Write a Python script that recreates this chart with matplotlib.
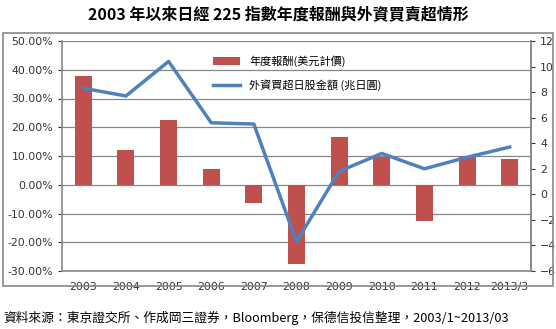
import matplotlib.pyplot as plt
import numpy as np
from matplotlib.patches import Rectangle

plt.rcParams['font.family'] = ['Noto Sans CJK TC', 'DejaVu Sans']

# data
years = ['2003', '2004', '2005', '2006', '2007', '2008', '2009', '2010', '2011', '2012', '2013/3']
ret = [37.8, 12.0, 22.5, 5.5, -6.5, -27.5, 16.5, 9.5, -12.5, 10.0, 9.0]      # % (USD)
flow = [8.3, 7.7, 10.4, 5.6, 5.5, -3.7, 1.8, 3.2, 2.0, 2.9, 3.7]           # trillion JPY

fig = plt.figure(figsize=(5.56, 3.29), dpi=100)
W, H = 556, 329

# outer chart frame
fig.patches.append(Rectangle((3 / W, 1 - 286 / H), 550 / W, 253 / H,
                             transform=fig.transFigure, fill=False,
                             edgecolor='#888888', linewidth=1.2))

ax = fig.add_axes([62 / W, 1 - 271 / H, 469 / W, 230 / H])
x = np.arange(len(years))
ax.bar(x, ret, width=0.4, color='#C0504D', zorder=3, label='年度報酬(美元計價)')
ax.set_ylim(-30, 50)
ax.set_yticks(np.arange(-30, 51, 10))
ax.set_yticklabels(['%.2f%%' % v for v in np.arange(-30, 51, 10)])
ax.set_xlim(-0.5, len(years) - 0.5)
ax.set_xticks(x)
ax.set_xticklabels(years)
ax.grid(axis='y', color='#888888', linewidth=0.9, zorder=0)
ax.tick_params(axis='both', labelsize=8.5, colors='#333333', length=3)
ax.tick_params(axis='x', length=0, pad=14)
for lab in ax.get_xticklabels() + ax.get_yticklabels():
    lab.set_fontfamily('DejaVu Sans')
    lab.set_fontsize(7.8)
for lab in ax.get_xticklabels():
    lab.set_verticalalignment('baseline')
ax.spines['top'].set_visible(False)
for s in ['left', 'bottom', 'right']:
    ax.spines[s].set_color('#888888')
    ax.spines[s].set_linewidth(1.2)

ax2 = ax.twinx()
ax2.plot(x, flow, color='#4F81BD', linewidth=2.5, zorder=4, label='外資買超日股金額 (兆日圓)')
ax2.set_ylim(-6, 12)
ax2.set_yticks(np.arange(-6, 13, 2))
ax2.tick_params(axis='y', labelsize=7.8, colors='#333333', length=3)
for lab in ax2.get_yticklabels():
    lab.set_fontfamily('DejaVu Sans')
for s in ['top', 'left', 'bottom']:
    ax2.spines[s].set_visible(False)
ax2.spines['right'].set_color('#888888')
ax2.spines['right'].set_linewidth(1.2)

h1, l1 = ax.get_legend_handles_labels()
h2, l2 = ax2.get_legend_handles_labels()
ax2.legend(h1 + h2, l1 + l2, loc='upper left', bbox_to_anchor=(0.3, 0.98),
           frameon=False, fontsize=8, handlelength=2.5, labelspacing=1.1)

fig.text(0.5, 1 - 14 / H, '2003 年以來日經 225 指數年度報酬與外資買賣超情形',
         ha='center', va='center', fontsize=11.5, fontweight='bold')
fig.text(3 / W, 1 - 318 / H,
         '資料來源：東京證交所、作成岡三證券，Bloomberg，保德信投信整理，2003/1~2013/03',
         ha='left', va='center', fontsize=9.2)

fig.savefig('out.png', dpi=100)
